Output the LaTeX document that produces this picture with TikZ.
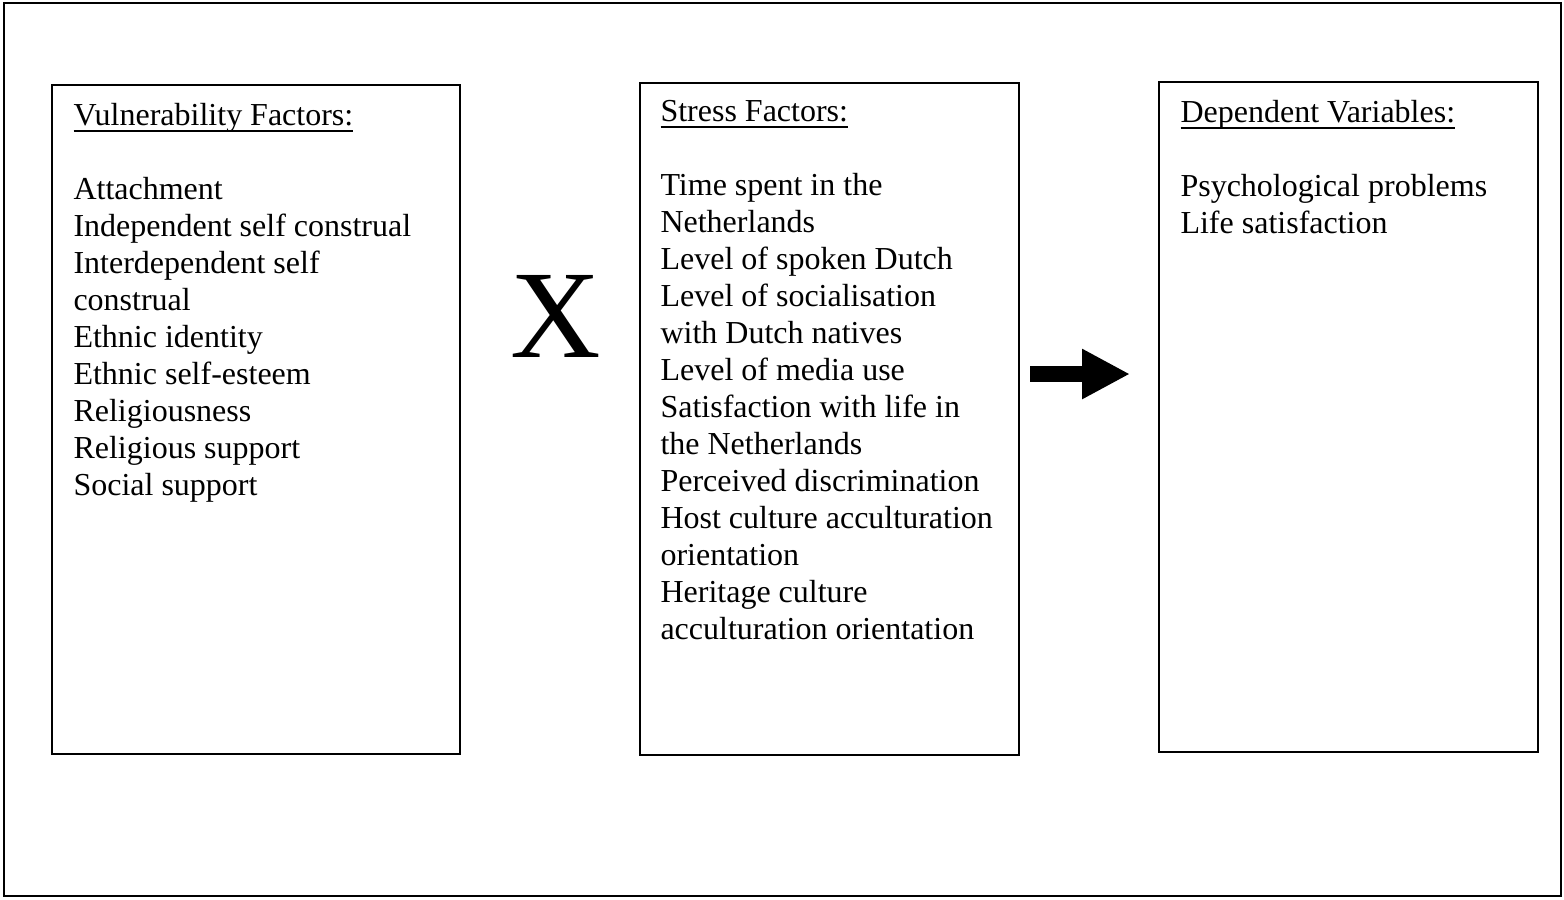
\documentclass[tikz,border=0pt]{standalone}
\usepackage{fontspec}
\setmainfont{Liberation Serif}
\usetikzlibrary{arrows.meta}

\tikzset{
  frame/.style={rectangle,draw,line width=0.75pt,inner sep=0pt},
  factorbox/.style={rectangle,draw,line width=0.6pt,inner sep=0pt},
  factortext/.style={anchor=base west,inner sep=0pt,font=\fontsize{12}{13.875}\selectfont},
}
\newcommand{\boxlines}[1]{\parbox[t]{140pt}{\raggedright #1}}
\newcommand{\boxhead}[1]{\leavevmode\setbox0\hbox{#1}\rlap{\rule[-2.5pt]{\wd0}{0.7pt}}\box0}

\begin{document}
\begin{tikzpicture}[x=0.375pt,y=-0.375pt]
	\useasboundingbox (0,0) rectangle (1564,899);
        \node at (782.5,449.5) [frame,minimum width=583.9pt,minimum height=334.9pt] (outer) {};

        \node at (256,419.5) [factorbox,minimum width=153pt,minimum height=250.9pt] (vf) {};
        \node at (829.5,419) [factorbox,minimum width=142.1pt,minimum height=252pt] (sf) {};
        \node at (1348.5,417) [factorbox,minimum width=142.1pt,minimum height=251.25pt] (dv) {};

        \node at (73,125) [factortext] (vftext) {\boxlines{\boxhead{Vulnerability Factors:}\\
		\mbox{}\\
		Attachment\\
		Independent self construal\\
		Interdependent self\\
		construal\\
		Ethnic identity\\
		Ethnic self-esteem\\
		Religiousness\\
		Religious support\\
		Social support}};

        \node at (660,121) [factortext] (sftext) {\boxlines{\boxhead{Stress Factors:}\\
		\mbox{}\\
		Time spent in the\\
		Netherlands\\
		Level of spoken Dutch\\
		Level of socialisation\\
		with Dutch natives\\
		Level of media use\\
		Satisfaction with life in\\
		the Netherlands\\
		Perceived discrimination\\
		Host culture acculturation\\
		orientation\\
		Heritage culture\\
		acculturation orientation}};

        \node at (1180,122) [factortext] (dvtext) {\boxlines{\boxhead{Dependent Variables:}\\
		\mbox{}\\
		Psychological problems\\
		Life satisfaction}};

	\node at (556,357) [anchor=base,inner sep=0pt,font=\fontsize{47}{50}\selectfont] (times) {X};

	\coordinate (arrs) at (1030,374);
	\coordinate (arre) at (1130,374);
     \draw [line width=6pt,-{Triangle[length=18pt,width=17.6pt]}] (arrs) -- (arre);
    \end{tikzpicture}
\end{document}
